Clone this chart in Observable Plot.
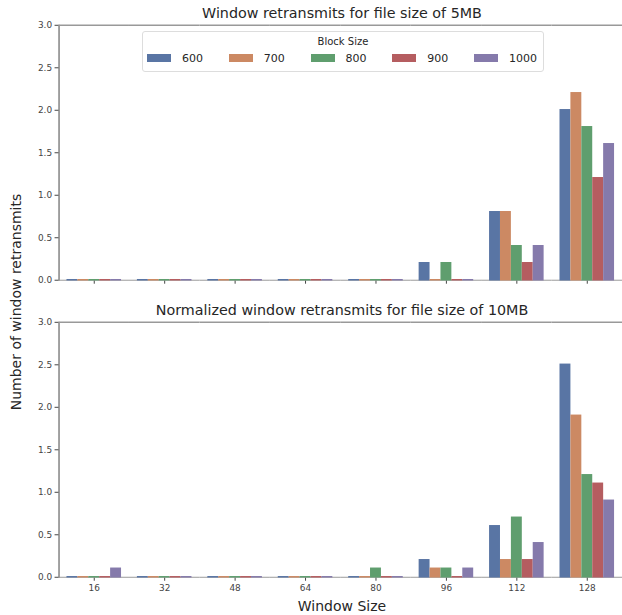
<!DOCTYPE html>
<html>
<head>
<meta charset="utf-8">
<script src="https://cdn.jsdelivr.net/npm/d3@7"></script>
<script src="https://cdn.jsdelivr.net/npm/@observablehq/plot@0.6"></script>
<style>
  html, body { margin: 0; padding: 0; background: #fff; overflow: hidden; }
  #fig { position: relative; width: 622px; height: 615px; overflow: hidden; font-family: "DejaVu Sans", sans-serif; color: #262626; }
  .abs { position: absolute; white-space: nowrap; }
  .title { font-size: 14.3px; transform: translate(-50%, -50%); }
  .legend { position: absolute; border: 1px solid #ddd; border-radius: 3px; background: rgba(255,255,255,0.85); box-sizing: border-box; }
</style>
</head>
<body>
<div id="fig"></div>
<script>
const windows = [16, 32, 48, 64, 80, 96, 112, 128];
const blocks = [600, 700, 800, 900, 1000];
const colors = ["#5975a4", "#cc8963", "#5f9e6e", "#b55d60", "#857aab"];
const yTicks = [0, 0.5, 1.0, 1.5, 2.0, 2.5, 3.0];

// 5MB file: window retransmits per block size (indexed by window)
const r5_600  = [0, 0, 0, 0, 0, 0.2, 0.8, 2.0];
const r5_700  = [0, 0, 0, 0, 0, 0,   0.8, 2.2];
const r5_800  = [0, 0, 0, 0, 0, 0.2, 0.4, 1.8];
const r5_900  = [0, 0, 0, 0, 0, 0,   0.2, 1.2];
const r5_1000 = [0, 0, 0, 0, 0, 0,   0.4, 1.6];

// 10MB file: normalized window retransmits
const r10_600  = [0,   0, 0, 0, 0,   0.2, 0.6, 2.5];
const r10_700  = [0,   0, 0, 0, 0,   0.1, 0.2, 1.9];
const r10_800  = [0,   0, 0, 0, 0.1, 0.1, 0.7, 1.2];
const r10_900  = [0,   0, 0, 0, 0,   0,   0.2, 1.1];
const r10_1000 = [0.1, 0, 0, 0, 0,   0.1, 0.4, 0.9];

const title5 = "Window retransmits for file size of 5MB";
const title10 = "Normalized window retransmits for file size of 10MB";
const yLabel = "Number of window retransmits";
const xLabel = "Window Size";
const legendTitle = "Block Size";

function toRows(series) {
  const rows = [];
  series.forEach((vals, j) => {
    vals.forEach((v, i) => rows.push({window: windows[i], block: blocks[j], value: v}));
  });
  return rows;
}
const data5 = toRows([r5_600, r5_700, r5_800, r5_900, r5_1000]);
const data10 = toRows([r10_600, r10_700, r10_800, r10_900, r10_1000]);

function chart(data, height, marginTop, marginBottom, showLabels) {
  return Plot.plot({
    width: 627,
    height,
    marginLeft: 58,
    marginRight: 0,
    marginTop,
    marginBottom,
    style: {fontFamily: "DejaVu Sans, sans-serif", fontSize: "9px", color: "#444", background: "transparent", overflow: "visible"},
    fx: {domain: windows, paddingInner: 0, paddingOuter: 0, padding: 0, axis: "bottom", label: null, tickSize: 4, tickPadding: 3,
         tickFormat: showLabels ? (d => String(d)) : (() => "")},
    x: {domain: blocks, axis: null, paddingInner: 0, paddingOuter: 0.625},
    y: {domain: [0, 3], ticks: yTicks, tickFormat: d => d.toFixed(1), tickSize: 4, tickPadding: 3, label: null, line: true},
    color: {type: "ordinal", domain: blocks, range: colors},
    marks: [
      Plot.ruleY([0], {stroke: "#999", strokeWidth: 1}),
      Plot.ruleY([3], {stroke: "#999", strokeWidth: 1.5}),
      Plot.barY(data, {fx: "window", x: "block", y: "value", fill: "block", insetTop: -0.75, insetBottom: -0.75})
    ]
  });
}

const fig = document.getElementById("fig");

const topChart = chart(data5, 300, 25, 18, false);
topChart.style.position = "absolute"; topChart.style.left = "0px"; topChart.style.top = "0px";
fig.appendChild(topChart);

const bottomChart = chart(data10, 315, 22, 36, true);
bottomChart.style.position = "absolute"; bottomChart.style.left = "0px"; bottomChart.style.top = "300px";
fig.appendChild(bottomChart);

function addText(txt, x, y, cls, extra) {
  const d = document.createElement("div");
  d.className = "abs " + cls;
  d.textContent = txt;
  d.style.left = x + "px";
  d.style.top = y + "px";
  if (extra) Object.assign(d.style, extra);
  fig.appendChild(d);
  return d;
}
addText(title5, 342, 13, "title");
addText(title10, 342, 310, "title");
addText(xLabel, 342, 606, "title", {fontSize: "14px"});
addText(yLabel, 16, 302, "title", {fontSize: "14px", transform: "translate(-50%, -50%) rotate(-90deg)"});

// Legend
const lg = document.createElement("div");
lg.className = "legend";
Object.assign(lg.style, {left: "142px", top: "31px", width: "402px", height: "41px"});
fig.appendChild(lg);
const lt = document.createElement("div");
lt.className = "abs";
lt.textContent = legendTitle;
Object.assign(lt.style, {left: "50%", top: "9px", transform: "translate(-50%, -50%)", fontSize: "10px"});
lg.appendChild(lt);
blocks.forEach((b, i) => {
  const sw = document.createElement("div");
  sw.className = "abs";
  Object.assign(sw.style, {left: (4 + i * 81.75) + "px", top: "22px", width: "24px", height: "8px", background: colors[i]});
  lg.appendChild(sw);
  const lb = document.createElement("div");
  lb.className = "abs";
  lb.textContent = String(b);
  Object.assign(lb.style, {left: (39 + i * 81.75) + "px", top: "26px", transform: "translateY(-50%)", fontSize: "11px"});
  lg.appendChild(lb);
});
</script>
</body>
</html>
